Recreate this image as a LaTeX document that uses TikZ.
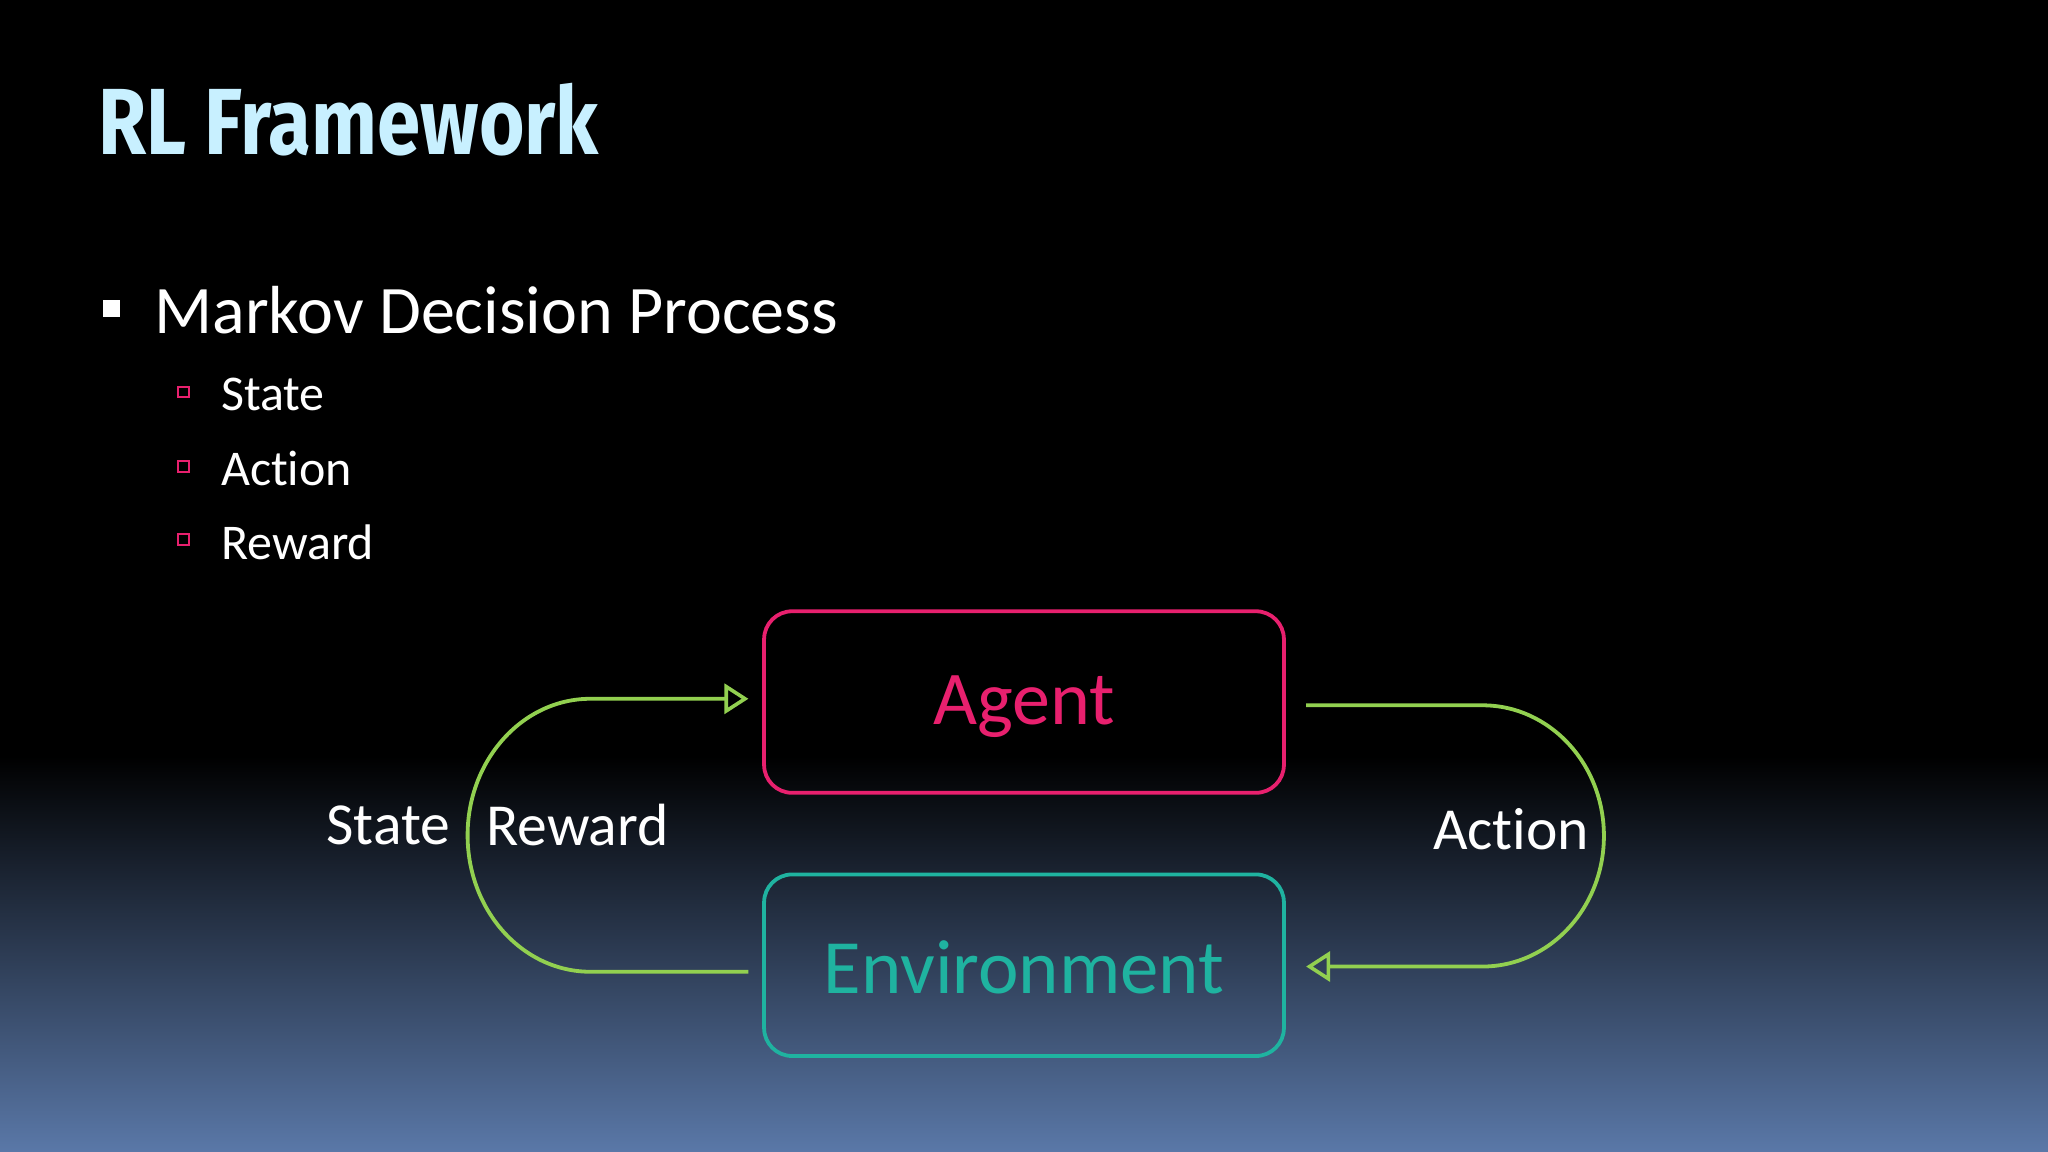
\documentclass[tikz,border=0pt]{standalone}
\usepackage{fontspec}
\setmainfont{Carlito}[Ligatures={NoCommon}]
\newfontfamily\titlefont{Fira Sans}
\usetikzlibrary{arrows.meta}
\definecolor{titlec}{HTML}{C8F0FF}
\definecolor{mag}{HTML}{E8206E}
\definecolor{teal2}{HTML}{1FB3A0}
\definecolor{grn}{HTML}{92D050}
\definecolor{botblue}{HTML}{5A78A8}
\tikzset{
  box/.style={draw, rounded corners=14, line width=1.9pt, minimum width=398*0.653pt, minimum height=139*0.653pt},
  loop/.style={grn, line width=1.9pt},
  tip/.style={-{Triangle[open,length=12pt,width=15pt,line width=1.8pt]}},
  lbl/.style={white, font=\fontsize{29.8}{34}\selectfont},
  sub/.style={white, font=\fontsize{25}{29}\selectfont, anchor=west},
}
\begin{document}
\begin{tikzpicture}[x=0.653pt,y=-0.653pt]
\useasboundingbox (0,0) rectangle (1568,882);
\fill[black] (0,0) rectangle (1568,580);
\shade[top color=black,bottom color=botblue] (0,579) rectangle (1568,882);
\node[anchor=base west, inner sep=0, xscale=0.83, titlec, font=\titlefont\bfseries\fontsize{47}{50}\selectfont] (title) at (75,118) {RL Framework};
\fill[white] (79,230) rectangle (92,243);
\node[anchor=base west, inner sep=0, white, font=\fontsize{34}{38}\selectfont] (mdp) at (118,255) {Markov Decision Process};
\foreach \y/\t/\n in {300/State/s1,357/Action/s2,413/Reward/s3}{
  \draw[mag, line width=1pt] (136,\y-4) rectangle (145,\y+4);
  \node[sub, inner sep=0] (\n) at (169,\y+2) {\t};
}
\node[box, mag] (agent) at (784,537.5) {};
\node[mag, font=\fontsize{38}{42}\selectfont] (agentt) at (784,541) {Agent};
\node[box, teal2] (env) at (784,739) {};
\node[teal2, font=\fontsize{38.4}{42}\selectfont] (envt) at (784,741) {Environment};
\coordinate (l1) at (573,744);
\coordinate (l2) at (573,535);
\coordinate (r1) at (1000,540);
\coordinate (r2) at (1000,740);
\draw[loop, tip] (l1) -- (452,744) arc[start angle=90, end angle=270, x radius=94, y radius=104.5] -- (l2);
\draw[loop, tip] (r1) -- (1135,540) arc[start angle=90, end angle=-90, x radius=93, y radius=-100] -- (r2);
\node[lbl, anchor=east, inner sep=0] (st) at (345,632) {State};
\node[lbl, anchor=west, inner sep=0] (rw) at (372,632) {Reward};
\node[lbl, inner sep=0] (ac) at (1157,635) {Action};
\end{tikzpicture}
\end{document}
